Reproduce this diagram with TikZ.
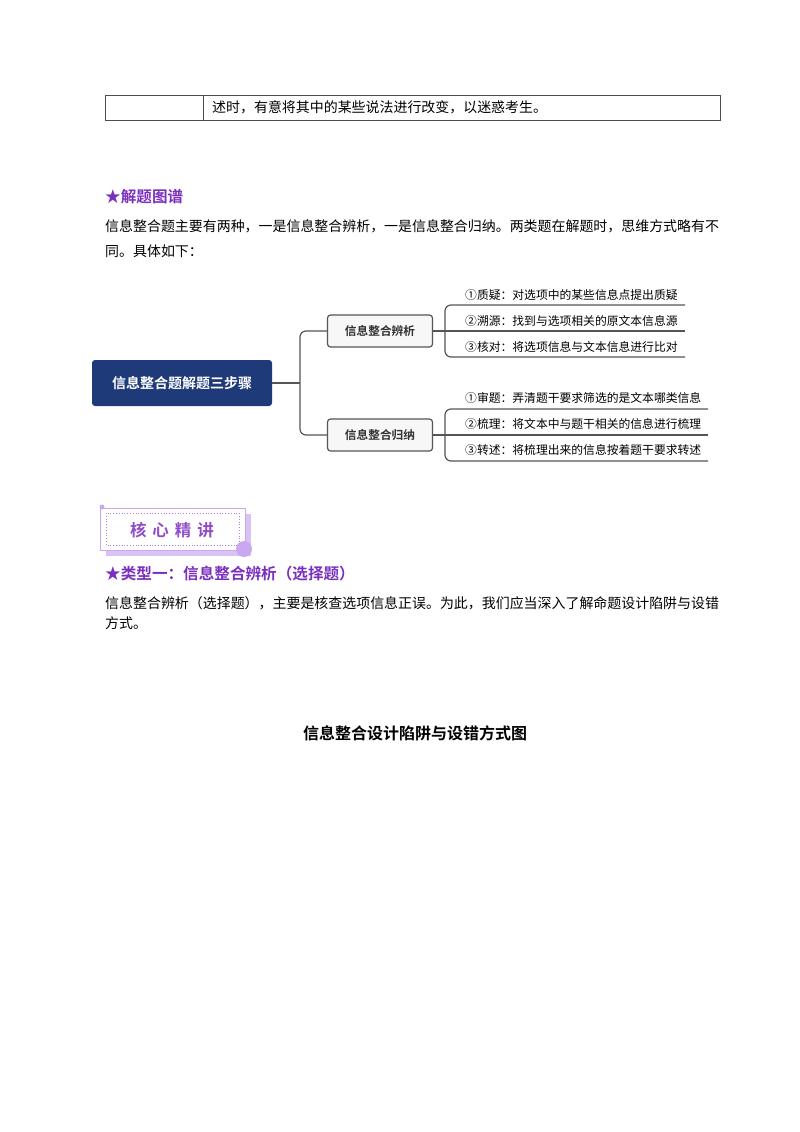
\documentclass[tikz,border=0pt]{standalone}
\usepackage{fontspec}
\setmainfont{Noto Sans CJK SC}
\newfontfamily\cjk{Noto Sans CJK SC}
\newfontfamily\cjkb{Noto Sans CJK SC Bold}
\definecolor{navy}{HTML}{1E3A78}
\definecolor{purp}{HTML}{7B2FBE}
\definecolor{lav}{HTML}{C9A8F0}
\definecolor{ln}{HTML}{555555}
\begin{document}
\begin{tikzpicture}[x=1pt,y=-1pt,
 body/.style={anchor=west,inner sep=0,font=\cjk\fontsize{13.95}{16}\selectfont},
 head/.style={anchor=west,inner sep=0,font=\cjkb\fontsize{15.6}{17}\selectfont,text=purp},
 sub/.style={draw=ln,line width=1.2pt,rounded corners=3pt,fill=gray!6,minimum width=105,minimum height=32,font=\cjkb\fontsize{11.7}{13}\selectfont,text=black!80},
 leaf/.style={anchor=west,inner sep=0,font=\cjk\fontsize{11.8}{13}\selectfont},
 conn/.style={draw=ln,line width=1.2pt,rounded corners=6pt}]
\useasboundingbox (0,0) rectangle (800,1132);
% table row
\draw[black!70,line width=0.8pt] (105,95) rectangle (720,120) (203,95)--(203,120);
\node[body] (t1) at (212,107) {述时，有意将其中的某些说法进行改变，以迷惑考生。};
\node[head] (h1) at (105,197) {★解题图谱};
\node[body] (p1a) at (105,226) {信息整合题主要有两种，一是信息整合辨析，一是信息整合归纳。两类题在解题时，思维方式略有不};
\node[body] (p1b) at (105,251) {同。具体如下：};
% mind map
\node[fill=navy,rounded corners=3pt,minimum width=180,minimum height=46,text=white,font=\cjkb\fontsize{14}{15}\selectfont] (root) at (182,383) {信息整合题解题三步骤};
\node[sub] (b1) at (380,331) {信息整合辨析};
\node[sub] (b2) at (380,435) {信息整合归纳};
\coordinate (j) at (300,383);
\draw[conn] (root.east)--(j);
\draw[conn] (b1.west)--(300,331)--(300,435)--(b2.west);
% group 1
\coordinate (g1a) at (685,305); \coordinate (g1b) at (685,331); \coordinate (g1c) at (685,357);
\draw[conn] (b1.east)--(g1b);
\draw[conn] (g1a)--(445,305)--(445,357)--(g1c);
\node[leaf] (l1) at (465,295) {①质疑：对选项中的某些信息点提出质疑};
\node[leaf] (l2) at (465,321) {②溯源：找到与选项相关的原文本信息源};
\node[leaf] (l3) at (465,347) {③核对：将选项信息与文本信息进行比对};
% group 2
\coordinate (g2a) at (708,409); \coordinate (g2b) at (708,435); \coordinate (g2c) at (708,461);
\draw[conn] (b2.east)--(g2b);
\draw[conn] (g2a)--(445,409)--(445,461)--(g2c);
\node[leaf] (l4) at (465,398) {①审题：弄清题干要求筛选的是文本哪类信息};
\node[leaf] (l5) at (465,424) {②梳理：将文本中与题干相关的信息进行梳理};
\node[leaf] (l6) at (465,450) {③转述：将梳理出来的信息按着题干要求转述};
% badge
\fill[lav!70] (106,514) rectangle (251,556);
\fill[white] (100,508) rectangle (245,550);
\draw[lav,line width=1pt] (100,508) rectangle (245,550);
\draw[purp!60,dotted,line width=0.8pt] (106,513) rectangle (239,545);
\fill[lav] (102,507) circle (2.5);
\fill[lav] (244,549) circle (8);
\node[font=\cjkb\fontsize{16.5}{17}\selectfont,text=purp!85] (bt) at (172,530) {核\hspace{6pt}心\hspace{6pt}精\hspace{6pt}讲};
\node[head] (h2) at (105,574) {★类型一：信息整合辨析（选择题）};
\node[body] (p2a) at (105,603) {信息整合辨析（选择题），主要是核查选项信息正误。为此，我们应当深入了解命题设计陷阱与设错};
\node[body] (p2b) at (105,623) {方式。};
\node[inner sep=0,font=\cjkb\fontsize{16}{17}\selectfont] (title) at (415,733) {信息整合设计陷阱与设错方式图};
\end{tikzpicture}
\end{document}
